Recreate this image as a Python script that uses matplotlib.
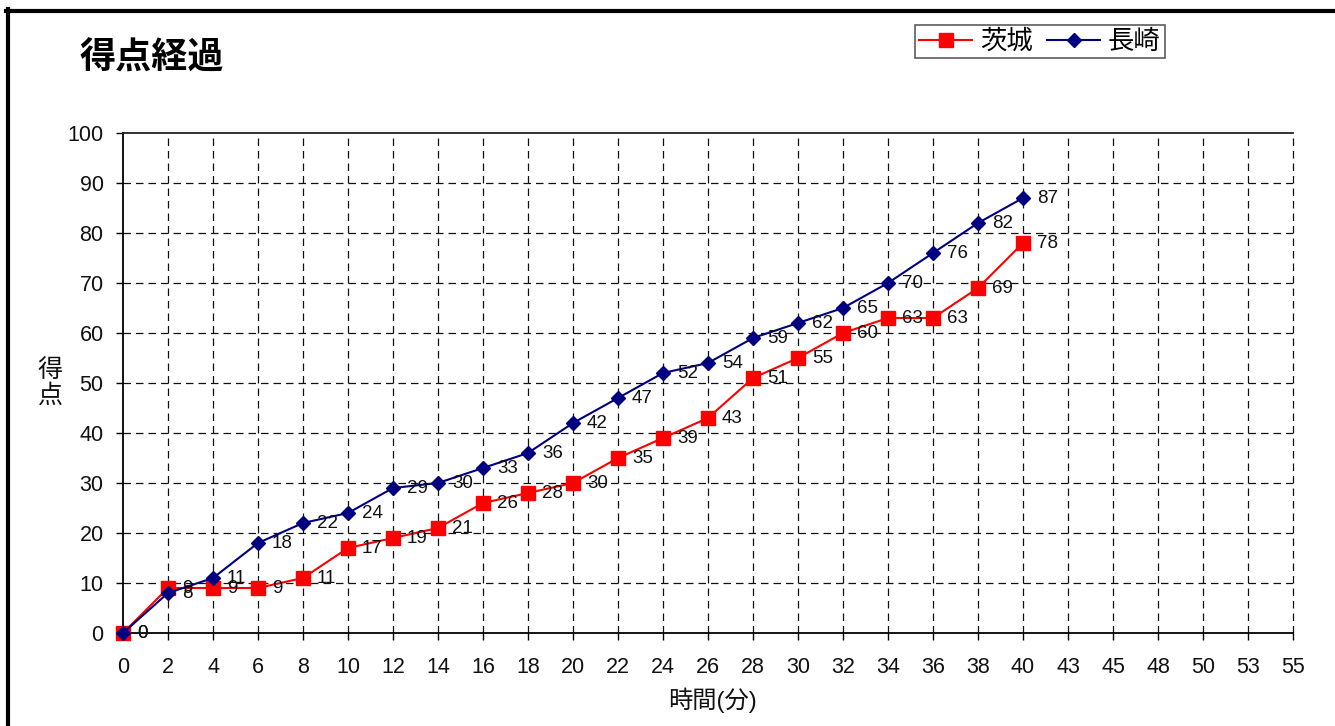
import matplotlib
matplotlib.use("Agg")
import matplotlib.pyplot as plt
from matplotlib.lines import Line2D

plt.rcParams['font.family'] = ['Liberation Sans', 'Noto Sans CJK JP', 'DejaVu Sans']

categories = ["0", "2", "4", "6", "8", "10", "12", "14", "16", "18", "20", "22", "24",
              "26", "28", "30", "32", "34", "36", "38", "40", "43", "45", "48", "50", "53", "55"]
ibaraki = [0, 9, 9, 9, 11, 17, 19, 21, 26, 28, 30, 35, 39, 43, 51, 55, 60, 63, 63, 69, 78]
nagasaki = [0, 8, 11, 18, 22, 24, 29, 30, 33, 36, 42, 47, 52, 54, 59, 62, 65, 70, 76, 82, 87]
yticks = [0, 10, 20, 30, 40, 50, 60, 70, 80, 90, 100]

W, H = 1335, 726
fig = plt.figure(figsize=(W / 100, H / 100), dpi=100)
ax = fig.add_axes([123 / W, 1 - 633 / H, (1293 - 123) / W, (633 - 133) / H])

xpos = list(range(len(categories)))
x_i = xpos[:len(ibaraki)]
x_n = xpos[:len(nagasaki)]

ax.plot(x_i, ibaraki, color='#FF0000', lw=1.5, marker='s', ms=10.5, mec='#FF0000',
        mfc='#FF0000', label='茨城', zorder=3, clip_on=False)
ax.plot(x_n, nagasaki, color='#000080', lw=1.5, marker='D', ms=7.5, mec='#000080',
        mfc='#000080', label='長崎', zorder=4, clip_on=False)

for x, v in zip(x_i, ibaraki):
    ax.annotate(str(v), (x, v), xytext=(10, -0.5), textcoords='offset points',
                ha='left', va='center', fontsize=13.5, color='#111111', zorder=5)
for x, v in zip(x_n, nagasaki):
    ax.annotate(str(v), (x, v), xytext=(10, -0.5), textcoords='offset points',
                ha='left', va='center', fontsize=13.5, color='#111111', zorder=5)

ax.set_xlim(0, len(categories) - 1)
ax.set_ylim(0, 100)
ax.set_xticks(xpos)
ax.set_xticklabels(categories, fontsize=15.5, color='#111111')
ax.set_yticks(yticks)
ax.set_yticklabels([str(v) for v in yticks], fontsize=15.5, color='#111111')
ax.tick_params(axis='x', direction='out', length=5, width=1, pad=12)
ax.tick_params(axis='y', direction='out', length=5, width=1, pad=9)

for x in xpos[1:]:
    ax.axvline(x, color='#111111', lw=0.9, ls=(0, (6, 4)), zorder=1, clip_on=False)
for y in yticks[1:-1]:
    ax.axhline(y, color='#111111', lw=0.9, ls=(0, (6, 4)), zorder=1)

ax.spines['right'].set_visible(False)
ax.spines['top'].set_color('#222222')
ax.spines['top'].set_linewidth(1.3)
ax.spines['left'].set_linewidth(1.3)
ax.spines['bottom'].set_linewidth(1.3)

fig.text(50 / W, 1 - 383 / H, '得\n点', fontsize=18, ha='center', va='center',
         linespacing=1.1, color='#111111')
fig.text(713 / W, 1 - 700 / H, '時間(分)', fontsize=17.5, ha='center', va='center',
         color='#111111')
fig.text(80 / W, 1 - 59 / H, '得点経過', fontsize=26, fontweight='bold',
         ha='left', va='center', color='black')

leg = fig.legend(loc='center', bbox_to_anchor=(1040 / W, 1 - 41.5 / H), ncol=2,
                 fontsize=19, frameon=True, fancybox=False, edgecolor='#333333',
                 borderpad=0.15, handlelength=2.0, handletextpad=0.3,
                 columnspacing=0.55, borderaxespad=0)
leg.get_frame().set_linewidth(1.2)

fig.add_artist(Line2D([6 / W, 1.0], [1 - 11 / H, 1 - 11 / H], color='black', lw=3,
                      transform=fig.transFigure))
fig.add_artist(Line2D([8 / W, 8 / W], [1 - 9 / H, 0], color='black', lw=3,
                      transform=fig.transFigure))

fig.savefig('out.png', dpi=100)
